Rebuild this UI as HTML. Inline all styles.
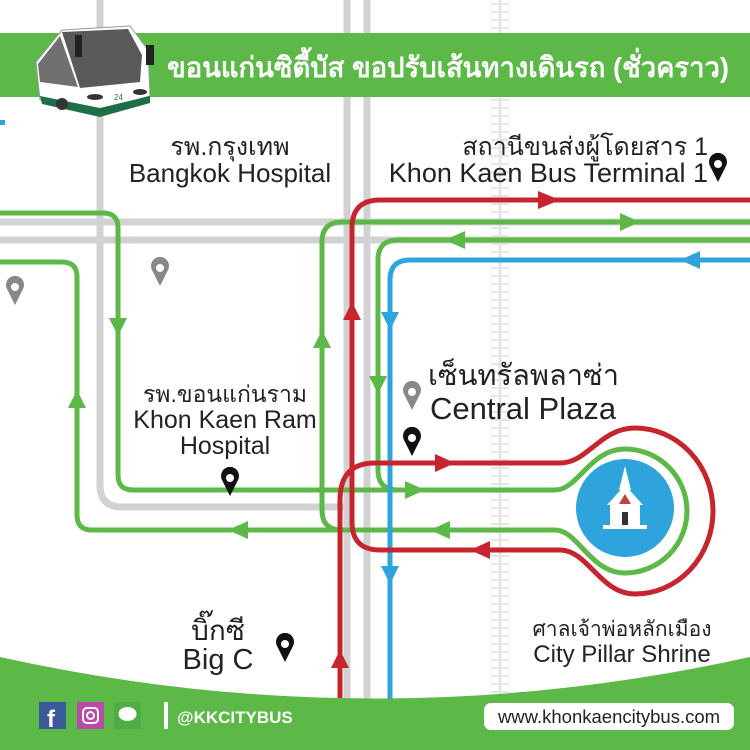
<!DOCTYPE html>
<html><head><meta charset="utf-8"><style>
html,body{margin:0;padding:0;background:#fff}
svg{display:block}
text{font-family:"Liberation Sans","Noto Sans CJK SC",sans-serif}
</style></head><body>
<svg width="750" height="750" viewBox="0 0 750 750" xmlns="http://www.w3.org/2000/svg">
<rect width="750" height="750" fill="#fff"/>
<!-- railroad -->
<g stroke="#e6e6e6">
<line x1="500" y1="0" x2="500" y2="700" stroke-width="3"/>
<path d="M491 4H509M491 12H509M491 20H509M491 28H509M491 36H509M491 44H509M491 52H509M491 60H509M491 68H509M491 76H509M491 84H509M491 92H509M491 100H509M491 108H509M491 116H509M491 124H509M491 132H509M491 140H509M491 148H509M491 156H509M491 164H509M491 172H509M491 180H509M491 188H509M491 196H509M491 204H509M491 212H509M491 220H509M491 228H509M491 236H509M491 244H509M491 252H509M491 260H509M491 268H509M491 276H509M491 284H509M491 292H509M491 300H509M491 308H509M491 316H509M491 324H509M491 332H509M491 340H509M491 348H509M491 356H509M491 364H509M491 372H509M491 380H509M491 388H509M491 396H509M491 404H509M491 412H509M491 420H509M491 428H509M491 436H509M491 444H509M491 452H509M491 460H509M491 468H509M491 476H509M491 484H509M491 492H509M491 500H509M491 508H509M491 516H509M491 524H509M491 532H509M491 540H509M491 548H509M491 556H509M491 564H509M491 572H509M491 580H509M491 588H509M491 596H509M491 604H509M491 612H509M491 620H509M491 628H509M491 636H509M491 644H509M491 652H509M491 660H509M491 668H509M491 676H509M491 684H509M491 692H509" stroke-width="2"/>
</g>
<!-- gray roads -->
<g stroke="#d2d2d2" stroke-width="7" fill="none">
<line x1="0" y1="222" x2="750" y2="222"/>
<line x1="0" y1="240" x2="750" y2="240"/>
<path d="M100 0V485Q100 507 122 507H345"/>
<line x1="347" y1="0" x2="347" y2="700"/>
<line x1="367" y1="0" x2="367" y2="700"/>
</g>
<!-- header -->
<rect x="0" y="33" width="750" height="64" fill="#5cb947"/>
<text x="167" y="77" font-size="28" font-weight="bold" fill="#fff" textLength="562" lengthAdjust="spacingAndGlyphs">ขอนแก่นซิตี้บัส ขอปรับเส้นทางเดินรถ (ชั่วคราว)</text>
<!-- bus -->
<g>
<path d="M36 62 L62 30 L130 26 L148 50 L150 96 L100 110 L40 100 Z" fill="#fff" stroke="#999" stroke-width="1"/>
<path d="M62 32 L128 29 L142 55 L140 82 L80 88 Z" fill="#5a5a5a"/>
<path d="M38 64 L60 36 L78 87 L40 82 Z" fill="#707070"/>
<path d="M40 96 L100 108 L150 96 L150 103 L100 117 L42 104 Z" fill="#1e6e4a"/>
<rect x="75" y="35" width="7" height="22" fill="#222"/>
<rect x="146" y="45" width="8" height="20" fill="#222"/>
<ellipse cx="95" cy="97" rx="8" ry="3" fill="#333"/>
<ellipse cx="140" cy="92" rx="7" ry="3" fill="#333"/>
<text x="114" y="100" font-size="8" fill="#2d7a3c">24</text>
<circle cx="62" cy="104" r="6" fill="#333"/>
</g>
<rect x="0" y="120" width="5" height="5" fill="#2ea3dc"/>
<!-- routes -->
<g fill="none" stroke-width="5" stroke-linejoin="round">
<path stroke="#5cb947" d="M0 213H103Q118 213 118 228V475Q118 490 133 490H555C578 490 590 449 625 449A62 62 0 0 1 625 573C590 573 578 530 555 530H92Q77 530 77 515V277Q77 262 62 262H0"/>
<path stroke="#5cb947" d="M342 530Q322 530 322 510V242Q322 222 342 222H750"/>
<path stroke="#5cb947" d="M750 240H398Q378 240 378 260V470Q378 490 398 490H430"/>
<path stroke="#2ea3dc" d="M750 260H410Q390 260 390 280V700"/>
<path stroke="#c8242f" d="M340 700V500Q340 463 375 463H560C588 463 600 428 635 428A78 83 0 0 1 635 594C600 594 588 550 560 550H380Q352 550 352 522V228Q352 200 380 200H750"/>
</g>
<!-- arrows -->
<g fill="#5cb947">
<polygon points="109,318 127,318 118,336"/>
<polygon points="68,408 86,408 77,390"/>
<polygon points="313,348 331,348 322,330"/>
<polygon points="369,376 387,376 378,394"/>
<polygon points="620,213 640,222 620,231"/>
<polygon points="465,231 445,240 465,249"/>
<polygon points="405,481 425,490 405,499"/>
<polygon points="450,521 430,530 450,539"/>
<polygon points="248,521 228,530 248,539"/>
</g>
<g fill="#c8242f">
<polygon points="331,668 349,668 340,650"/>
<polygon points="343,320 361,320 352,302"/>
<polygon points="538,191 560,200 538,209"/>
<polygon points="435,454 455,463 435,472"/>
<polygon points="490,541 470,550 490,559"/>
</g>
<g fill="#2ea3dc">
<polygon points="700,251 680,260 700,269"/>
<polygon points="381,312 399,312 390,330"/>
<polygon points="381,566 399,566 390,584"/>
</g>
<!-- shrine -->
<circle cx="625" cy="508" r="49" fill="#2ea3dc"/>
<g fill="#fff">
<polygon points="625,466 619,490 631,490"/>
<polygon points="607,505 625,485 643,505"/>
<rect x="610" y="505" width="30" height="20"/>
<rect x="603" y="525" width="44" height="4"/>
</g>
<polygon points="619,504 625,494 631,504" fill="#b44"/>
<rect x="622" y="512" width="6" height="13" fill="#333"/>
<!-- pins -->
<g>
<path d="M15 305L7 289A9 9 0 1 1 23 289Z" fill="#888"/><circle cx="15" cy="287" r="4" fill="#fff"/>
<path d="M160 286L152 270A9 9 0 1 1 168 270Z" fill="#888"/><circle cx="160" cy="268" r="4" fill="#fff"/>
<path d="M412 410L404 394A9 9 0 1 1 420 394Z" fill="#888"/><circle cx="412" cy="392" r="4" fill="#fff"/>
<path d="M412 456L404 440A9 9 0 1 1 420 440Z" fill="#111"/><circle cx="412" cy="438" r="4" fill="#fff"/>
<path d="M230 496L222 480A9 9 0 1 1 238 480Z" fill="#111"/><circle cx="230" cy="478" r="4" fill="#fff"/>
<path d="M285 662L277 646A9 9 0 1 1 293 646Z" fill="#111"/><circle cx="285" cy="644" r="4" fill="#fff"/>
<path d="M718 182L710 166A9 9 0 1 1 726 166Z" fill="#111"/><circle cx="718" cy="164" r="4" fill="#fff"/>
</g>
<!-- labels -->
<g fill="#222">
<text x="230" y="155" text-anchor="middle" font-size="25">รพ.กรุงเทพ</text>
<text x="230" y="182" text-anchor="middle" font-size="26">Bangkok Hospital</text>
<text x="708" y="155" text-anchor="end" font-size="25">สถานีขนส่งผู้โดยสาร 1</text>
<text x="708" y="182" text-anchor="end" font-size="27">Khon Kaen Bus Terminal 1</text>
<text x="225" y="402" text-anchor="middle" font-size="23">รพ.ขอนแก่นราม</text>
<text x="225" y="428" text-anchor="middle" font-size="25">Khon Kaen Ram</text>
<text x="225" y="454" text-anchor="middle" font-size="25">Hospital</text>
<text x="428" y="385" font-size="29">เซ็นทรัลพลาซ่า</text>
<text x="430" y="419" font-size="31">Central Plaza</text>
<text x="218" y="640" text-anchor="middle" font-size="28">บิ๊กซี</text>
<text x="218" y="669" text-anchor="middle" font-size="29">Big C</text>
<text x="622" y="636" text-anchor="middle" font-size="21">ศาลเจ้าพ่อหลักเมือง</text>
<text x="622" y="662" text-anchor="middle" font-size="24">City Pillar Shrine</text>
</g>
<!-- footer -->
<path d="M0 657Q375 740 750 657V750H0Z" fill="#5cb947"/>
<rect x="39" y="702" width="27" height="27" fill="#3b5998"/>
<text x="47" y="727" font-size="24" font-weight="bold" fill="#fff">f</text>
<rect x="77" y="702" width="27" height="27" fill="#b84aa9"/>
<rect x="83" y="708" width="15" height="15" rx="4" fill="none" stroke="#fff" stroke-width="2"/>
<circle cx="90.5" cy="715.5" r="3.5" fill="none" stroke="#fff" stroke-width="2"/>
<rect x="114" y="702" width="27" height="27" fill="#4cae45"/>
<ellipse cx="127.5" cy="714" rx="9" ry="7" fill="#fff"/>
<rect x="164" y="702" width="4" height="27" fill="#fff"/>
<text x="177" y="723" font-size="17" font-weight="bold" fill="#fff">@KKCITYBUS</text>
<rect x="484" y="703" width="250" height="27" rx="7" fill="#fff"/>
<text x="609" y="723" text-anchor="middle" font-size="18.5" fill="#222">www.khonkaencitybus.com</text>
</svg>
</body></html>
